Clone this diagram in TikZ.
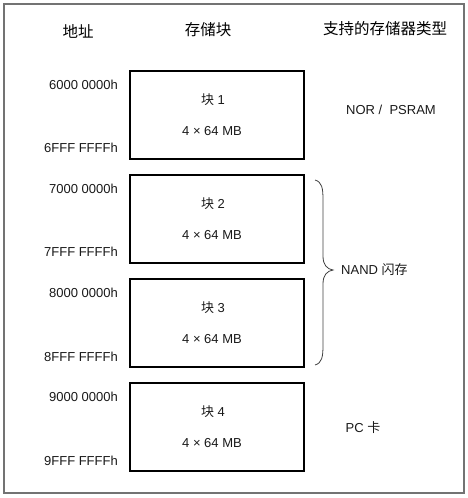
\documentclass[tikz,border=0pt]{standalone}
\usepackage{fontspec}
\setmainfont{Liberation Sans}
\newfontfamily\cjk{Noto Sans CJK SC}
\begin{document}
\begin{tikzpicture}[x=1pt,y=-1pt,
  blockbox/.style={draw=black,line width=2pt,minimum width=174pt,minimum height=88pt,inner sep=0pt},
  addr/.style={anchor=east,font=\fontsize{13}{15}\selectfont,inner sep=0pt,text=black!90},
  blab/.style={font=\fontsize{13}{15}\selectfont,inner sep=0pt,text=black!90},
  head/.style={font=\fontsize{15.5}{17}\selectfont\cjk,inner sep=0pt,text=black},
  typ/.style={font=\fontsize{13}{15}\selectfont,inner sep=0pt,text=black!90}]
\useasboundingbox (0,0) rectangle (467,498);
\draw[draw=black!55,line width=1.3pt] (4,4) rectangle (464,493);
% headers
\node[head] (h1) at (78,31) {地址};
\node[head] (h2) at (208,30) {存储块};
\node[head] (h3) at (385,29) {支持的存储器类型};
% blocks
\node[blockbox] (b1) at (217,115) {};
\node[blockbox] (b2) at (217,219) {};
\node[blockbox] (b3) at (217,323) {};
\node[blockbox] (b4) at (217,427) {};
\foreach \n/\y in {1/100,2/204,3/308,4/412}{
  \node[blab] (t\n) at (213,\y) {{\cjk 块} \n};
  \node[blab] (s\n) at (212,\y+31) {4 × 64 MB};
}
% addresses
\node[addr] (a1) at (118,85) {6000 0000h};
\node[addr] (e1) at (118,148) {6FFF FFFFh};
\node[addr] (a2) at (118,189) {7000 0000h};
\node[addr] (e2) at (118,252) {7FFF FFFFh};
\node[addr] (a3) at (118,293) {8000 0000h};
\node[addr] (e3) at (118,357) {8FFF FFFFh};
\node[addr] (a4) at (118,397) {9000 0000h};
\node[addr] (e4) at (118,461) {9FFF FFFFh};
% types
\node[typ] (nor) at (391,110) {NOR /\ \ PSRAM};
\node[typ,anchor=west] (nand) at (341,270) {NAND {\cjk 闪存}};
\node[typ] (pc) at (363,428) {PC {\cjk 卡}};
% brace
\coordinate (bt) at (315,180);
\coordinate (bb) at (315,365);
\draw[black!75,line width=0.8pt] (bt) .. controls (322,182) and (323,188) .. (323,200) -- (323,256)
  .. controls (323,265) and (327,269) .. (333,270)
  .. controls (327,271) and (323,275) .. (323,284) -- (323,345)
  .. controls (323,357) and (322,363) .. (bb);
\end{tikzpicture}
\end{document}
